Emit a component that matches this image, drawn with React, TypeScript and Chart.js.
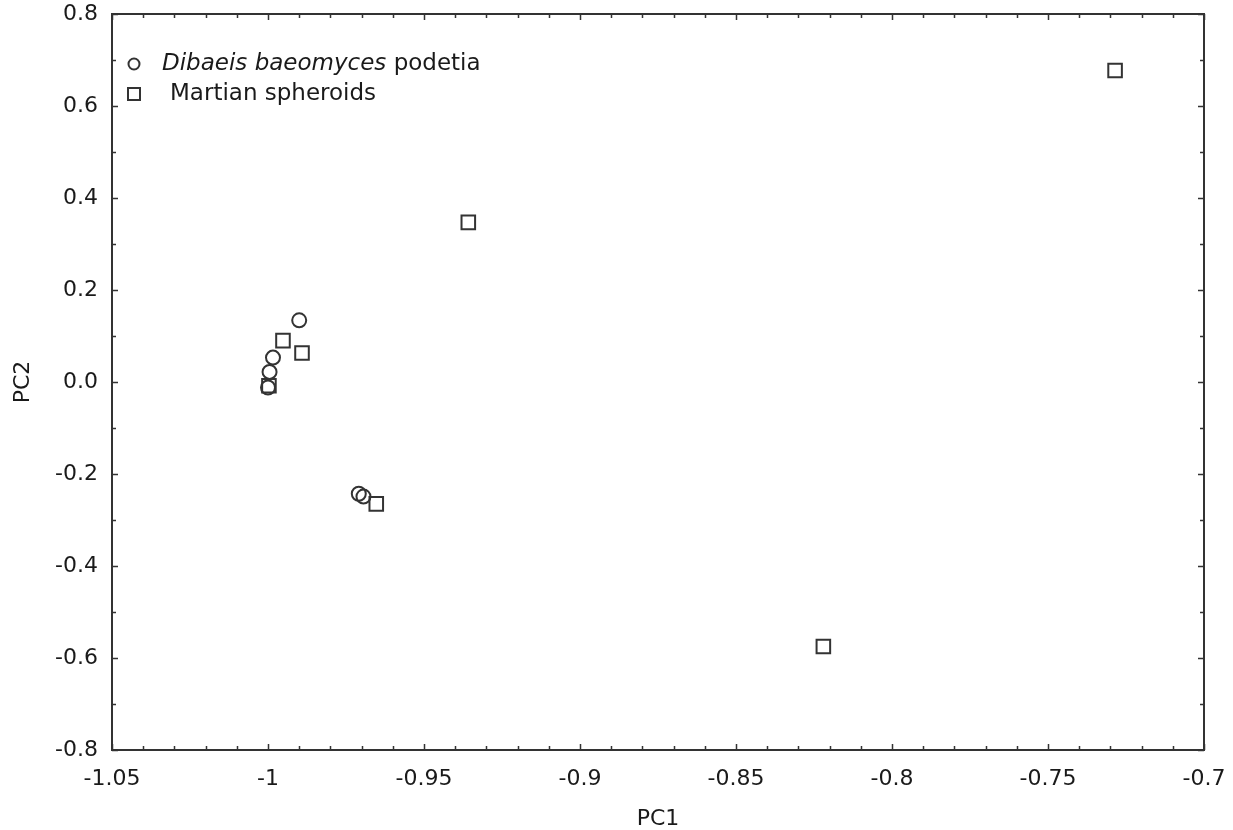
import React, { useEffect, useRef } from "react";
import { Chart, registerables } from "chart.js";

Chart.register(...registerables);

// ---- data ----
const PODETIA_X = [-0.990, -0.9984, -0.9995, -1.0, -0.9709, -0.9694];
const PODETIA_Y = [0.134, 0.053, 0.022, -0.012, -0.243, -0.249];
const SPHEROIDS_X = [-0.7285, -0.9358, -0.9952, -0.9891, -0.9997, -0.9653, -0.822];
const SPHEROIDS_Y = [0.677, 0.347, 0.090, 0.063, -0.008, -0.265, -0.575];

const LEGEND_ITALIC = "Dibaeis baeomyces";
const LEGEND_REST = " podetia";
const LEGEND_SECOND = "Martian spheroids";

const X_MIN = -1.05;
const X_MAX = -0.7;
const X_STEP = 0.05;
const X_MINOR = 0.01;
const Y_MIN = -0.8;
const Y_MAX = 0.8;
const Y_STEP = 0.2;
const Y_MINOR = 0.1;

const INK = "#333333";
const TEXT = "#1a1a1a";
const FONT = "'DejaVu Sans', sans-serif";

const frameAndTicks = {
  id: "frameAndTicks",
  afterDraw(chart: any) {
    const { ctx, chartArea } = chart;
    const xs = chart.scales.x;
    const ys = chart.scales.y;
    const { left, right, top, bottom } = chartArea;
    ctx.save();
    ctx.strokeStyle = INK;
    ctx.lineWidth = 2;
    ctx.strokeRect(left, top, right - left, bottom - top);
    ctx.lineWidth = 1.5;
    ctx.beginPath();
    const nx = Math.round((X_MAX - X_MIN) / X_MINOR);
    for (let i = 0; i <= nx; i++) {
      const v = X_MIN + i * X_MINOR;
      const px = Math.round(xs.getPixelForValue(v)) + 0.5;
      const len = i % 5 === 0 ? 6 : 4;
      ctx.moveTo(px, bottom);
      ctx.lineTo(px, bottom - len);
      ctx.moveTo(px, top);
      ctx.lineTo(px, top + len);
    }
    const ny = Math.round((Y_MAX - Y_MIN) / Y_MINOR);
    for (let i = 0; i <= ny; i++) {
      const v = Y_MIN + i * Y_MINOR;
      const py = Math.round(ys.getPixelForValue(v)) + 0.5;
      const len = i % 2 === 0 ? 6 : 4;
      ctx.moveTo(left, py);
      ctx.lineTo(left + len, py);
      ctx.moveTo(right, py);
      ctx.lineTo(right - len, py);
    }
    ctx.stroke();
    ctx.restore();
  },
};

const customLegend = {
  id: "customLegend",
  afterDraw(chart: any) {
    const { ctx, chartArea } = chart;
    const mx = chartArea.left + 22;
    const y1 = chartArea.top + 50;
    const y2 = chartArea.top + 80;
    ctx.save();
    ctx.strokeStyle = INK;
    ctx.lineWidth = 2;
    ctx.beginPath();
    ctx.arc(mx, y1, 5.5, 0, Math.PI * 2);
    ctx.stroke();
    ctx.strokeRect(mx - 6, y2 - 6, 12, 12);
    ctx.fillStyle = TEXT;
    ctx.textBaseline = "middle";
    ctx.textAlign = "left";
    const tx1 = mx + 28;
    ctx.font = `italic 23px ${FONT}`;
    ctx.fillText(LEGEND_ITALIC, tx1, y1);
    const w = ctx.measureText(LEGEND_ITALIC).width;
    ctx.font = `23px ${FONT}`;
    ctx.fillText(LEGEND_REST, tx1 + w, y1);
    ctx.fillText(LEGEND_SECOND, mx + 36, y2);
    ctx.restore();
  },
};

export default function App() {
  const ref = useRef<HTMLCanvasElement | null>(null);
  useEffect(() => {
    if (!ref.current) return;
    const chart = new Chart(ref.current, {
      type: "scatter",
      data: {
        datasets: [
          {
            label: LEGEND_ITALIC + LEGEND_REST,
            data: PODETIA_X.map((x, i) => ({ x, y: PODETIA_Y[i] })),
            pointStyle: "circle",
            pointRadius: 7,
            borderWidth: 2,
            borderColor: INK,
            backgroundColor: "rgba(0,0,0,0)",
          },
          {
            label: LEGEND_SECOND,
            data: SPHEROIDS_X.map((x, i) => ({ x, y: SPHEROIDS_Y[i] })),
            pointStyle: "rect",
            pointRadius: 9.6,
            borderWidth: 2,
            borderColor: INK,
            backgroundColor: "rgba(0,0,0,0)",
          },
        ],
      },
      options: {
        responsive: false,
        animation: false,
        layout: { padding: { left: 0, right: 29, top: 14, bottom: 0 } },
        plugins: {
          legend: { display: false },
          tooltip: { enabled: false },
        },
        scales: {
          x: {
            type: "linear",
            min: X_MIN,
            max: X_MAX,
            grid: { display: false },
            border: { display: false },
            ticks: {
              stepSize: X_STEP,
              padding: 8,
              color: TEXT,
              font: { family: FONT, size: 22 },
              maxRotation: 0,
              autoSkip: false,
              callback: (v: any) => String(Number(Number(v).toFixed(2))),
            },
            title: {
              display: true,
              text: "PC1",
              color: TEXT,
              font: { family: FONT, size: 22 },
              padding: { top: 0, bottom: -2 },
            },
            afterFit: (s: any) => {
              s.height = 80;
              s.paddingLeft = 0;
              s.paddingRight = 0;
            },
          },
          y: {
            type: "linear",
            min: Y_MIN,
            max: Y_MAX,
            grid: { display: false },
            border: { display: false },
            ticks: {
              stepSize: Y_STEP,
              padding: 6,
              color: TEXT,
              font: { family: FONT, size: 22 },
              autoSkip: false,
              callback: (v: any) => Number(v).toFixed(1).replace("-0.0", "0.0"),
            },
            title: {
              display: true,
              text: "PC2",
              color: TEXT,
              font: { family: FONT, size: 22 },
              padding: { top: 10, bottom: 0 },
            },
            afterFit: (s: any) => {
              s.width = 112;
              s.paddingTop = 0;
              s.paddingBottom = 0;
            },
          },
        },
      },
      plugins: [frameAndTicks, customLegend],
    });
    return () => chart.destroy();
  }, []);
  return (
    <div style={{ position: "absolute", left: 0, top: 0, width: 1233, height: 830, background: "#fff" }}>
      <canvas ref={ref} width={1233} height={830} style={{ display: "block" }} />
    </div>
  );
}
